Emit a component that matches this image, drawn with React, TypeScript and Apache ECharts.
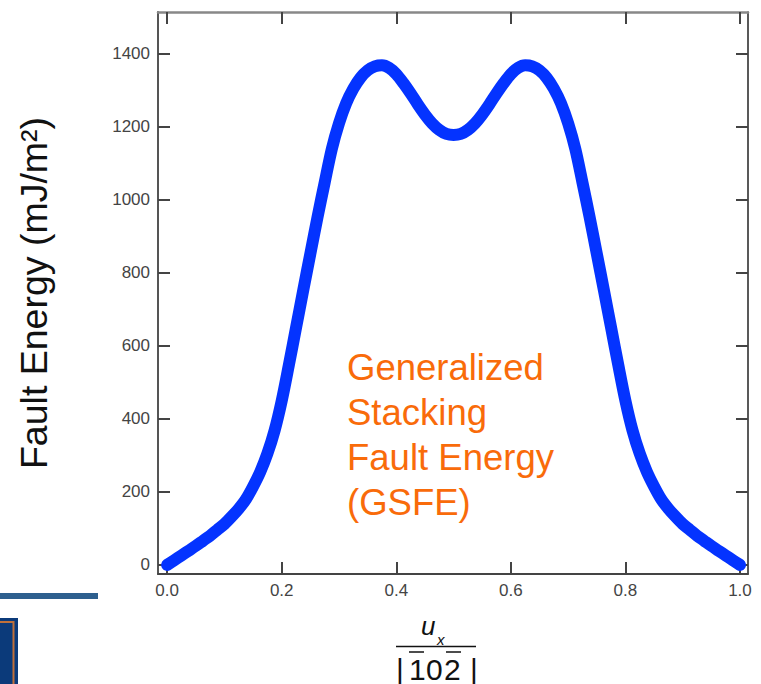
import React, { useEffect, useRef } from "react";
import * as echarts from "echarts";

const xValues = [
  0, 0.0125, 0.025, 0.0375, 0.05, 0.0625, 0.075, 0.0875, 0.1, 0.1125, 0.125, 0.1375, 0.15, 0.1625, 0.175, 0.1875,
  0.2, 0.2125, 0.225, 0.2375, 0.25, 0.2625, 0.275, 0.2875, 0.3, 0.3125, 0.325, 0.3375, 0.35, 0.3625, 0.375, 0.3875,
  0.4, 0.4125, 0.425, 0.4375, 0.45, 0.4625, 0.475, 0.4875, 0.5, 0.5125, 0.525, 0.5375, 0.55, 0.5625, 0.575, 0.5875,
  0.6, 0.6125, 0.625, 0.6375, 0.65, 0.6625, 0.675, 0.6875, 0.7, 0.7125, 0.725, 0.7375, 0.75, 0.7625, 0.775, 0.7875,
  0.8, 0.8125, 0.825, 0.8375, 0.85, 0.8625, 0.875, 0.8875, 0.9, 0.9125, 0.925, 0.9375, 0.95, 0.9625, 0.975, 0.9875, 1.0,
];
const energyValues = [
  0, 13, 26, 39, 52, 66, 80, 96, 112, 132, 154, 180, 215, 255, 305, 368,
  450, 548, 650, 752, 853, 953, 1048, 1140, 1210, 1265, 1305, 1335, 1355, 1366, 1369, 1362,
  1345, 1320, 1292, 1262, 1234, 1210, 1192, 1181, 1178, 1181, 1192, 1210, 1234, 1262, 1292, 1320,
  1345, 1362, 1369, 1366, 1355, 1335, 1305, 1265, 1210, 1140, 1048, 953, 853, 752, 650, 548,
  450, 368, 305, 255, 215, 180, 154, 132, 112, 96, 80, 66, 52, 39, 26, 13, 0,
];
const xTicks = [0, 0.2, 0.4, 0.6, 0.8, 1.0];
const yTicks = [0, 200, 400, 600, 800, 1000, 1200, 1400];
const yTitle = "Fault Energy (mJ/m²)";
const noteLines = ["Generalized", "Stacking", "Fault Energy", "(GSFE)"];

const FONT = "'Liberation Sans', Arial, Helvetica, sans-serif";

export default function App() {
  const ref = useRef<HTMLDivElement>(null);
  useEffect(() => {
    if (!ref.current) return;
    const chart = echarts.init(ref.current, null, { renderer: "svg" });
    const tick = (vals: number[]) => ({
      show: true,
      inside: true,
      length: 12,
      customValues: vals,
      lineStyle: { color: "#444", width: 2 },
    });
    const line = (color: string, width: number) => ({
      show: true,
      onZero: false,
      lineStyle: { color, width },
    });
    const data = xValues.map((x, i) => [x, energyValues[i]]);
    chart.setOption({
      animation: false,
      backgroundColor: "#fff",
      grid: { left: 158, top: 12, right: 13, bottom: 110, containLabel: false },
      xAxis: [
        {
          type: "value",
          position: "bottom",
          min: -0.016,
          max: 1.014,
          axisLine: line("#444", 2),
          splitLine: { show: false },
          axisTick: tick(xTicks),
          axisLabel: {
            show: true,
            customValues: xTicks,
            formatter: (v: number) => v.toFixed(1),
            color: "#444",
            fontSize: 17,
            fontFamily: FONT,
            margin: 8,
          },
        },
        {
          type: "value",
          position: "top",
          min: -0.016,
          max: 1.014,
          axisLine: line("#888", 2.5),
          splitLine: { show: false },
          axisTick: tick(xTicks),
          axisLabel: { show: false },
        },
      ],
      yAxis: [
        {
          type: "value",
          position: "left",
          min: -25,
          max: 1515,
          axisLine: line("#555", 2),
          splitLine: { show: false },
          axisTick: tick(yTicks),
          axisLabel: {
            show: true,
            customValues: yTicks,
            formatter: (v: number) => String(v),
            color: "#444",
            fontSize: 17,
            fontFamily: FONT,
            margin: 8,
          },
        },
        {
          type: "value",
          position: "right",
          min: -25,
          max: 1515,
          axisLine: line("#222", 1.5),
          splitLine: { show: false },
          axisTick: tick(yTicks),
          axisLabel: { show: false },
        },
      ],
      series: [
        {
          type: "line",
          xAxisIndex: 0,
          yAxisIndex: 0,
          data,
          smooth: 0.3,
          showSymbol: false,
          symbol: "none",
          lineStyle: { color: "#0433ff", width: 12, cap: "round", join: "round" },
        },
      ],
      graphic: [
        {
          type: "text",
          x: 34,
          y: 293,
          rotation: Math.PI / 2,
          style: {
            text: yTitle,
            font: `37.5px ${FONT}`,
            fill: "#111",
            align: "center",
            verticalAlign: "middle",
          },
        },
        ...noteLines.map((t, i) => ({
          type: "text",
          left: 347,
          top: 349 + i * 45,
          style: { text: t, font: `36.5px ${FONT}`, fill: "#f96b0a" },
        })),
        {
          type: "text",
          x: 421,
          y: 639,
          style: { text: "u", font: `italic 26px ${FONT}`, fill: "#111", verticalAlign: "bottom" },
        },
        {
          type: "text",
          x: 437,
          y: 647,
          style: { text: "x", font: `italic 15px ${FONT}`, fill: "#111", verticalAlign: "bottom" },
        },
        { type: "line", shape: { x1: 396, y1: 646.5, x2: 476, y2: 646.5 }, style: { stroke: "#111", lineWidth: 1.5 } },
        {
          type: "text",
          x: 396,
          y: 684,
          style: { text: "|", font: `30px ${FONT}`, fill: "#111", verticalAlign: "bottom" },
        },
        {
          type: "text",
          x: 409,
          y: 684,
          style: { text: "1", font: `30px ${FONT}`, fill: "#111", verticalAlign: "bottom" },
        },
        {
          type: "text",
          x: 426,
          y: 684,
          style: { text: "0", font: `30px ${FONT}`, fill: "#111", verticalAlign: "bottom" },
        },
        {
          type: "text",
          x: 444,
          y: 684,
          style: { text: "2", font: `30px ${FONT}`, fill: "#111", verticalAlign: "bottom" },
        },
        {
          type: "text",
          x: 470,
          y: 684,
          style: { text: "|", font: `30px ${FONT}`, fill: "#111", verticalAlign: "bottom" },
        },
        { type: "line", shape: { x1: 409, y1: 652, x2: 424, y2: 652 }, style: { stroke: "#111", lineWidth: 1.5 } },
        { type: "line", shape: { x1: 446, y1: 652, x2: 461, y2: 652 }, style: { stroke: "#111", lineWidth: 1.5 } },
        { type: "rect", shape: { x: 0, y: 593, width: 98, height: 6 }, style: { fill: "#2d5f8e" } },
        { type: "rect", shape: { x: 0, y: 618, width: 18, height: 66 }, style: { fill: "#0b3a7a" } },
        {
          type: "polyline",
          shape: { points: [[0, 622], [13.5, 622], [13.5, 684]] },
          style: { stroke: "#c0703a", lineWidth: 2, fill: "none" },
        },
      ],
    });
    return () => chart.dispose();
  }, []);
  return <div ref={ref} style={{ position: "absolute", left: 0, top: 0, width: 761, height: 684 }} />;
}
